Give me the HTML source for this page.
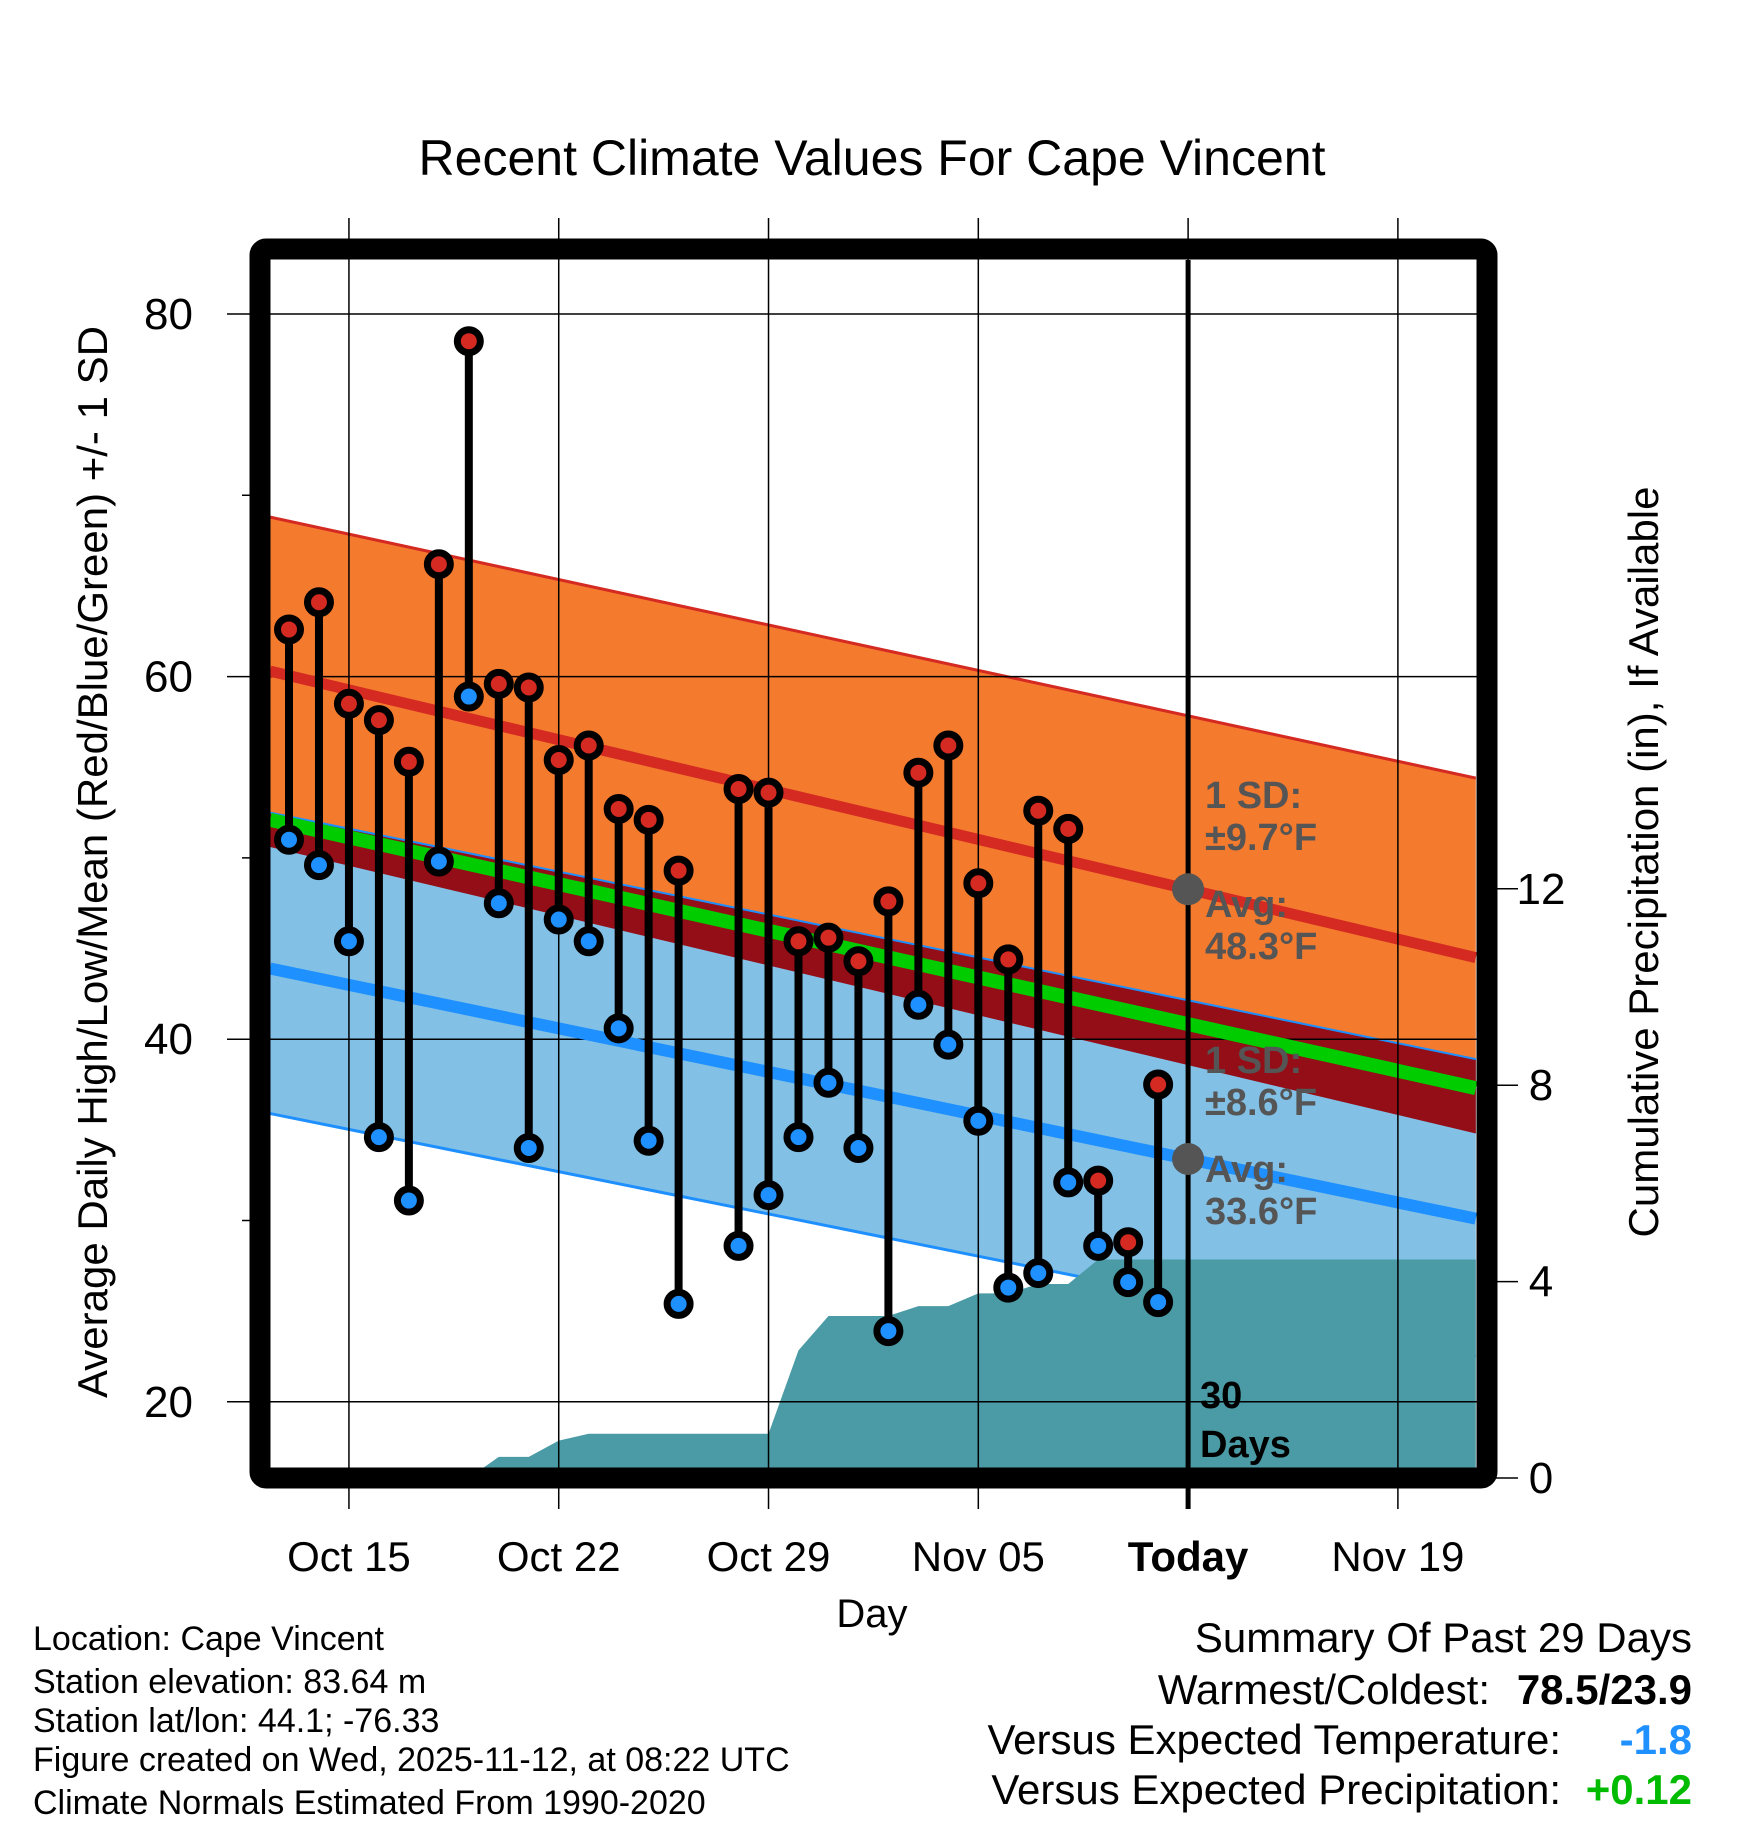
<!DOCTYPE html>
<html><head><meta charset="utf-8"><style>
html,body{margin:0;padding:0;background:#fff;}
svg{display:block;font-family:"Liberation Sans",Arial,sans-serif;}
</style></head><body>
<svg id="chart" width="1748" height="1828" viewBox="0 0 1748 1828" xmlns="http://www.w3.org/2000/svg">
<defs><clipPath id="plotclip"><rect x="270" y="260" width="1207" height="1208"/></clipPath></defs>
<g id="plot" clip-path="url(#plotclip)"></g>
<g id="over"></g>
</svg>
<script>
// ---- data ----
const dayLabels = ["Oct 13","Oct 14","Oct 15","Oct 16","Oct 17","Oct 18","Oct 19","Oct 20","Oct 21","Oct 22","Oct 23","Oct 24","Oct 25","Oct 26","Oct 27","Oct 28","Oct 29","Oct 30","Oct 31","Nov 01","Nov 02","Nov 03","Nov 04","Nov 05","Nov 06","Nov 07","Nov 08","Nov 09","Nov 10","Nov 11"];
const highs = [62.6,64.1,58.5,57.6,55.3,66.2,78.5,59.6,59.4,55.4,56.2,52.7,52.1,49.3,null,53.8,53.6,45.4,45.6,44.3,47.6,54.7,56.2,48.6,44.4,52.6,51.6,32.2,28.8,37.5];
const lows  = [51.0,49.6,45.4,34.6,31.1,49.8,58.9,47.5,34.0,46.6,45.4,40.6,34.4,25.4,null,28.6,31.4,34.6,37.6,34.0,23.9,41.9,39.7,35.5,26.3,27.1,32.1,28.6,26.6,25.5];
const precip = [0,0,0,0,0,0,0,0.43,0.43,0.76,0.9,0.9,0.9,0.9,0.9,0.9,0.9,2.6,3.3,3.3,3.3,3.5,3.5,3.76,3.76,3.95,3.95,4.45,4.45,4.45];
// normals at plot left edge and right edge (day offsets relative to Oct 13)
const normDays = [-0.63, 39.6];
const normHigh = [60.3, 44.5];
const normLow = [43.9, 30.1];
const highUpper = [68.8, 54.4];
const highLower = [50.6, 34.8];
const lowUpper = [52.5, 38.9];
const lowLower = [35.9, 22.5];
const xTickDays = [2, 9, 16, 23, 30, 37];
const xTickLabels = ["Oct 15","Oct 22","Oct 29","Nov 05","Today","Nov 19"];
const yTicks = [20, 40, 60, 80];
const yMinor = [30, 50, 70];
const pTicks = [0, 4, 8, 12];
const todayDay = 30;

// ---- axes ----
const X = d => 289 + d * 29.97;
const Y = t => 314 + (80 - t) * 18.13;
const P = p => 1478 - p * 49.1;
const NS = "http://www.w3.org/2000/svg";
const plot = document.getElementById('plot');
const over = document.getElementById('over');
function mk(tag, attrs, parent, text){
  const e = document.createElementNS(NS, tag);
  for (const k in attrs) e.setAttribute(k, attrs[k]);
  if (text !== undefined) e.textContent = text;
  parent.appendChild(e); return e;
}
function lerp(arr, d){ return arr[0] + (arr[1]-arr[0]) * (d - normDays[0])/(normDays[1]-normDays[0]); }
const d0 = normDays[0], d1 = normDays[1];
function band(lo, hi){
  return `${X(d0)},${Y(hi(d0))} ${X(d1)},${Y(hi(d1))} ${X(d1)},${Y(lo(d1))} ${X(d0)},${Y(lo(d0))}`;
}
const hA = d => lerp(normHigh, d), lA = d => lerp(normLow, d);
const hU = d => lerp(highUpper, d), hL = d => lerp(highLower, d);
const lU = d => lerp(lowUpper, d), lL = d => lerp(lowLower, d);

let e;
e = mk('polygon', {points: band(hL, hU), fill:'#f47a2e'}, plot);


e = mk('polygon', {points: band(lL, lU), fill:'#82c0e6'}, plot);


e = mk('polygon', {points: band(hL, lU), fill:'#930e16'}, plot);


[[hU, '#d42a22', 3], [lU, '#1e8fff', 2], [lL, '#1e8fff', 3]].forEach(l => {
  const ln = mk('line', {x1:X(d0), y1:Y(l[0](d0)), x2:X(d1), y2:Y(l[0](d1)), stroke:l[1], 'stroke-width':l[2]}, plot);
  
  
});
// precipitation area
{
  let pts = `${X(6)},${P(0)} `;
  for (let i = 6; i < precip.length; i++) pts += `${X(i)},${P(precip[i])} `;
  pts += `${X(d1)},${P(precip[precip.length-1])} ${X(d1)},${P(-1)} ${X(6)},${P(-1)}`;
  e = mk('polygon', {points: pts, fill:'#4a9ba5'}, plot);
  
  
}
yTicks.forEach(t => { const g = mk('line', {x1:270, x2:1477, y1:Y(t), y2:Y(t), stroke:'#000', 'stroke-width':1.5}, plot);
  
   });
xTickDays.forEach(d => { const g = mk('line', {x1:X(d), x2:X(d), y1:218, y2:1509, stroke:'#000', 'stroke-width':1.5}, over);
  
   });
[[hA, '#d42a22', 11, 'high-normal-line'], [d => (hA(d)+lA(d))/2, '#00cc00', 14, 'mean-normal-line'], [lA, '#1e90ff', 12, 'low-normal-line']].forEach(l => {
  const ln = mk('line', {x1:X(d0), y1:Y(l[0](d0)), x2:X(d1), y2:Y(l[0](d1)), stroke:l[1], 'stroke-width':l[2]}, plot);
  
  
});
e = mk('line', {x1:X(todayDay), x2:X(todayDay), y1:260, y2:1509, stroke:'#000', 'stroke-width':5}, over);


for (let i = 0; i < highs.length; i++) {
  if (highs[i] === null) continue;
  const s = mk('line', {x1:X(i), x2:X(i), y1:Y(highs[i]), y2:Y(lows[i]), stroke:'#000', 'stroke-width':8}, over);
  
  
}
for (let i = 0; i < highs.length; i++) {
  if (highs[i] === null) continue;
  const c1 = mk('circle', {cx:X(i), cy:Y(highs[i]), r:11.5, fill:'#d42a22', stroke:'#000', 'stroke-width':7}, over);
  
  
  const c2 = mk('circle', {cx:X(i), cy:Y(lows[i]), r:11.5, fill:'#1e90ff', stroke:'#000', 'stroke-width':7}, over);
  
  
}
[hA, lA].forEach(f => { const c = mk('circle', {cx:X(todayDay), cy:Y(f(todayDay)), r:16, fill:'#555'}, over);
  
   });
e = mk('rect', {x:260, y:249, width:1227, height:1229, rx:6, fill:'none', stroke:'#000', 'stroke-width':21}, over);


yTicks.forEach(t => {
  const tk = mk('line', {x1:227, x2:260, y1:Y(t), y2:Y(t), stroke:'#000', 'stroke-width':1.5}, over);
  
  
  const lb = mk('text', {x:193, y:Y(t)+15, 'text-anchor':'end', 'font-size':44}, over, String(t));
  
  
});
yMinor.forEach(t => { const tk = mk('line', {x1:242, x2:260, y1:Y(t), y2:Y(t), stroke:'#000', 'stroke-width':1.5}, over);
  
   });
pTicks.forEach(p => {
  const tk = mk('line', {x1:1487, x2:1518, y1:P(p), y2:P(p), stroke:'#000', 'stroke-width':1.5}, over);
  
  
  const lb = mk('text', {x:1541, y:P(p)+15, 'text-anchor':'middle', 'font-size':44}, over, String(p));
  
  
});
xTickDays.forEach((d, i) => {
  const lb = mk('text', {x:X(d), y:1571, 'text-anchor':'middle', 'font-size':42, 'font-weight': xTickLabels[i]==='Today' ? 'bold':'normal'}, over, xTickLabels[i]);
  
  
});
</script>
<div style="position:absolute;left:0;top:0;width:1748px;height:1828px;pointer-events:none;">
<svg width="1748" height="1828" style="position:absolute;left:0;top:0" xmlns="http://www.w3.org/2000/svg" font-family="Liberation Sans, Arial, sans-serif">
<text x="872" y="175" text-anchor="middle" font-size="50">Recent Climate Values For Cape Vincent</text>
<text transform="translate(107,862) rotate(-90)" text-anchor="middle" font-size="42">Average Daily High/Low/Mean (Red/Blue/Green) +/- 1 SD</text>
<text transform="translate(1658,862) rotate(-90)" text-anchor="middle" font-size="42">Cumulative Precipitation (in), If Available</text>
<text x="872" y="1627" text-anchor="middle" font-size="40">Day</text>
<g font-size="38" font-weight="bold" fill="#555">
<text x="1205" y="808">1 SD:</text>
<text x="1205" y="850">±9.7°F</text>
<text x="1205" y="917">Avg:</text>
<text x="1205" y="959">48.3°F</text>
<text x="1205" y="1073">1 SD:</text>
<text x="1205" y="1115">±8.6°F</text>
<text x="1205" y="1182">Avg:</text>
<text x="1205" y="1224">33.6°F</text>
</g>
<text x="1200" y="1408" font-size="38" font-weight="bold">30</text>
<text x="1200" y="1457" font-size="38" font-weight="bold">Days</text>
<g font-size="34">
<text x="33" y="1650">Location: Cape Vincent</text>
<text x="33" y="1693">Station elevation: 83.64 m</text>
<text x="33" y="1732">Station lat/lon: 44.1; -76.33</text>
<text x="33" y="1771">Figure created on Wed, 2025-11-12, at 08:22 UTC</text>
<text x="33" y="1814">Climate Normals Estimated From 1990-2020</text>
</g>
<g font-size="42">
<text x="1692" y="1652" text-anchor="end">Summary Of Past 29 Days</text>
<text x="1490" y="1704" text-anchor="end">Warmest/Coldest:</text>
<text x="1692" y="1704" text-anchor="end" font-weight="bold">78.5/23.9</text>
<text x="1561" y="1754" text-anchor="end">Versus Expected Temperature:</text>
<text x="1692" y="1754" text-anchor="end" font-weight="bold" fill="#1e90ff">-1.8</text>
<text x="1561" y="1804" text-anchor="end">Versus Expected Precipitation:</text>
<text x="1692" y="1804" text-anchor="end" font-weight="bold" fill="#00bb00">+0.12</text>
</g>
</svg>
</div>
</body></html>
